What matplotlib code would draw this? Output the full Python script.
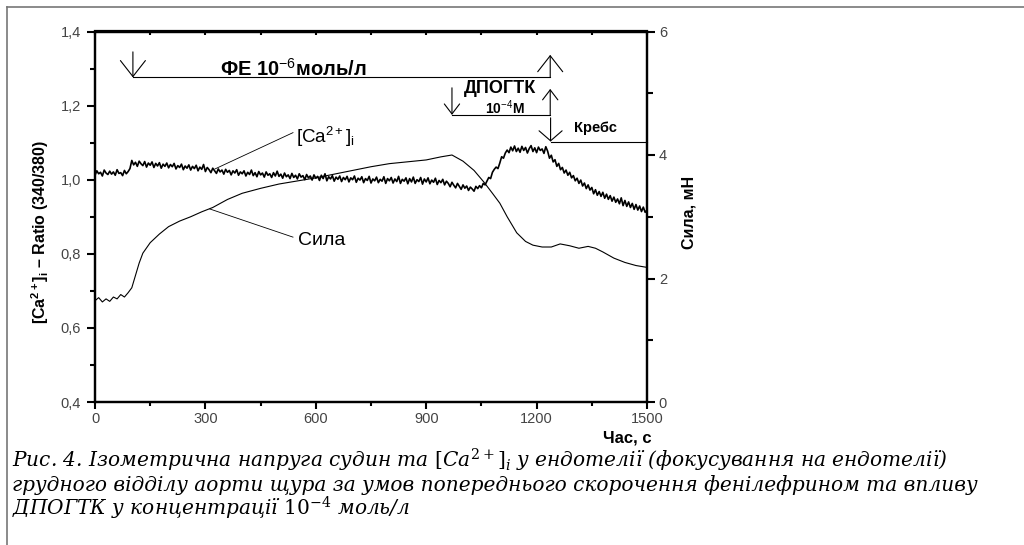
import numpy as np
import matplotlib
matplotlib.use("Agg")
import matplotlib.pyplot as plt
from matplotlib.ticker import FixedLocator, FixedFormatter
from matplotlib.lines import Line2D

plt.rcParams['font.family'] = ['Liberation Sans', 'DejaVu Sans']
plt.rcParams['mathtext.fontset'] = 'custom'
plt.rcParams['mathtext.rm'] = 'Liberation Sans'
plt.rcParams['mathtext.bf'] = 'Liberation Sans:bold'
plt.rcParams['mathtext.it'] = 'Liberation Sans:italic'

# ---------------- data ----------------
ca_time = np.arange(0, 1501, 5)
ca_ratio = [
    1.012, 1.024, 1.016, 1.020, 1.010, 1.026, 1.018, 1.014, 1.023, 1.015,
    1.021, 1.012, 1.027, 1.017, 1.019, 1.011, 1.025, 1.016, 1.022, 1.030,
    1.052, 1.040, 1.047, 1.036, 1.050, 1.043, 1.038, 1.049, 1.034, 1.045,
    1.039, 1.048, 1.033, 1.044, 1.037, 1.046, 1.031, 1.042, 1.036, 1.045,
    1.032, 1.041, 1.035, 1.044, 1.029, 1.038, 1.033, 1.042, 1.027, 1.037,
    1.031, 1.040, 1.026, 1.036, 1.030, 1.039, 1.024, 1.034, 1.028, 1.041,
    1.022, 1.033, 1.027, 1.019, 1.031, 1.024, 1.017, 1.029, 1.021, 1.026,
    1.015, 1.028, 1.020, 1.025, 1.013, 1.024, 1.018, 1.027, 1.012, 1.021,
    1.016, 1.024, 1.010, 1.020, 1.014, 1.026, 1.011, 1.019, 1.008, 1.022,
    1.013, 1.018, 1.007, 1.021, 1.012, 1.016, 1.006, 1.019, 1.010, 1.023,
    1.009, 1.015, 1.004, 1.018, 1.008, 1.013, 1.003, 1.017, 1.006, 1.012,
    1.002, 1.016, 1.007, 1.011, 1.000, 1.014, 1.005, 1.010, 0.999, 1.013,
    1.004, 1.009, 0.998, 1.012, 1.003, 1.016, 0.997, 1.008, 1.002, 1.011,
    0.996, 1.007, 1.001, 1.010, 0.995, 1.006, 1.000, 1.009, 0.994, 1.005,
    1.000, 1.010, 0.993, 1.004, 0.999, 1.008, 0.992, 1.003, 0.998, 1.009,
    0.991, 1.002, 0.997, 1.007, 0.992, 1.001, 0.996, 1.008, 0.990, 1.003,
    0.997, 1.006, 0.991, 1.002, 0.995, 1.009, 0.990, 1.001, 0.996, 1.005,
    0.989, 1.003, 0.994, 1.007, 0.990, 1.000, 0.995, 1.006, 0.988, 1.002,
    0.994, 1.005, 0.989, 0.999, 0.993, 1.004, 0.987, 0.998, 0.992, 1.001,
    0.986, 0.996, 0.990, 0.981, 0.993, 0.985, 0.978, 0.990, 0.982, 0.974,
    0.986, 0.977, 0.983, 0.971, 0.980, 0.975, 0.969, 0.982, 0.976, 0.984,
    0.978, 0.990, 0.986, 0.996, 1.006, 1.003, 1.020, 1.028, 1.034, 1.030,
    1.045, 1.062, 1.058, 1.072, 1.080, 1.073, 1.088, 1.078, 1.091, 1.076,
    1.085, 1.074, 1.090, 1.079, 1.087, 1.072, 1.084, 1.092, 1.076, 1.086,
    1.073, 1.088, 1.079, 1.083, 1.071, 1.089, 1.077, 1.058, 1.066, 1.048,
    1.054, 1.036, 1.044, 1.027, 1.033, 1.018, 1.026, 1.012, 1.020, 1.005,
    1.011, 0.997, 1.004, 0.990, 0.999, 0.983, 0.991, 0.976, 0.986, 0.972,
    0.979, 0.962, 0.973, 0.958, 0.968, 0.955, 0.966, 0.950, 0.961, 0.947,
    0.957, 0.942, 0.953, 0.939, 0.948, 0.935, 0.951, 0.930, 0.944, 0.928,
    0.940, 0.925, 0.936, 0.920, 0.933, 0.918, 0.929, 0.914, 0.926, 0.912,
    0.918,
]

force_time = [0, 10, 20, 30, 40, 50, 60, 70, 80, 90,
              100, 110, 120, 130, 150, 175, 200, 230, 260, 290,
              320, 360, 400, 450, 500, 550, 600, 650, 700, 750,
              800, 850, 900, 940, 970, 1000, 1030, 1057, 1080, 1100,
              1120, 1146, 1170, 1190, 1215, 1240, 1264, 1290, 1315, 1340,
              1360, 1380, 1410, 1440, 1470, 1500]
force_mN = [1.64, 1.69, 1.62, 1.67, 1.63, 1.70, 1.67, 1.74, 1.70, 1.77,
            1.85, 2.05, 2.25, 2.41, 2.58, 2.72, 2.84, 2.93, 3.00, 3.08,
            3.15, 3.28, 3.38, 3.46, 3.53, 3.58, 3.63, 3.69, 3.75, 3.81,
            3.86, 3.89, 3.92, 3.97, 4.00, 3.90, 3.75, 3.56, 3.38, 3.22,
            3.00, 2.74, 2.60, 2.54, 2.51, 2.51, 2.56, 2.53, 2.49, 2.52,
            2.49, 2.43, 2.33, 2.26, 2.21, 2.18]

x_ticks = [0, 300, 600, 900, 1200, 1500]
x_ticklabels = ['0', '300', '600', '900', '1200', '1500']
y_ticks = [0.4, 0.6, 0.8, 1.0, 1.2, 1.4]
y_ticklabels = ['0,4', '0,6', '0,8', '1,0', '1,2', '1,4']
y2_ticks = [0, 2, 4, 6]
y2_ticklabels = ['0', '2', '4', '6']

# treatment periods (s)
fe_period = (103, 1237)
dpogtk_period = (970, 1237)
krebs_start = 1238

caption_lines = [
    r"Рис. 4. Ізометрична напруга судин та $[Ca^{2+}]_i$ у ендотелії (фокусування на ендотелії)",
    r"грудного відділу аорти щура за умов попереднього скорочення фенілефрином та впливу",
    r"ДПОГТК у концентрації $10^{-4}$ моль/л",
]

# ---------------- figure ----------------
fig = plt.figure(figsize=(10.24, 5.45), dpi=100)
ax = fig.add_axes([95 / 1024, 1 - 402 / 545, 552 / 1024, 370.5 / 545])

ax.plot(ca_time, ca_ratio, color='black', lw=1.2, zorder=3)
ax.set_xlim(0, 1500)
ax.set_ylim(0.4, 1.4)

ax2 = ax.twinx()
ax2.plot(force_time, force_mN, color='black', lw=0.8, zorder=3)
ax2.set_ylim(0, 6)

tick_color = '#444444'
for a in (ax, ax2):
    for s in a.spines.values():
        s.set_linewidth(1.6)
        s.set_color('black')

ax.xaxis.set_major_locator(FixedLocator(x_ticks))
ax.xaxis.set_major_formatter(FixedFormatter(x_ticklabels))
ax.xaxis.set_minor_locator(FixedLocator([150, 450, 750, 1050, 1350]))
ax.yaxis.set_major_locator(FixedLocator(y_ticks))
ax.yaxis.set_major_formatter(FixedFormatter(y_ticklabels))
ax.yaxis.set_minor_locator(FixedLocator([0.5, 0.7, 0.9, 1.1, 1.3]))
ax2.yaxis.set_major_locator(FixedLocator(y2_ticks))
ax2.yaxis.set_major_formatter(FixedFormatter(y2_ticklabels))
ax2.yaxis.set_minor_locator(FixedLocator([1, 3, 5]))

ax.tick_params(axis='x', which='major', direction='out', length=5, width=1.5,
               labelsize=10.5, labelcolor=tick_color, pad=2.5)
ax.tick_params(axis='x', which='minor', direction='out', length=3, width=1.5)
ax.tick_params(axis='y', which='major', direction='out', length=5.5, width=1.5,
               labelsize=10.5, labelcolor=tick_color, pad=4.5)
ax.tick_params(axis='y', which='minor', direction='out', length=3.5, width=1.5)
ax2.tick_params(axis='y', which='major', direction='out', length=5.5, width=1.5,
                labelsize=10.5, labelcolor=tick_color, pad=3)
ax2.tick_params(axis='y', which='minor', direction='out', length=4.5, width=1.5)

sec = ax.secondary_xaxis('top')
sec.xaxis.set_major_locator(FixedLocator(x_ticks))
sec.xaxis.set_minor_locator(FixedLocator([150, 450, 750, 1050, 1350]))
sec.tick_params(which='both', direction='in', length=3.2, width=1.5, labeltop=False)
sec.spines['top'].set_linewidth(1.6)

# axis labels
fig.text(40 / 1024, 1 - 232 / 545, r"[Ca$^{\mathbf{2+}}$]$_{\mathbf{i}}$ – Ratio (340/380)",
         rotation=90, ha='center', va='center', fontsize=11.5, fontweight='bold')
fig.text(689 / 1024, 1 - 212 / 545, "Сила, мН", rotation=90, ha='center', va='center',
         fontsize=11.5, fontweight='bold')
fig.text(652 / 1024, 1 - 438 / 545, "Час, с", ha='right', va='center',
         fontsize=12, fontweight='bold')

# ---------------- treatment brackets ----------------
def arrow(x, y_from, y_to, hw, hl):
    ax.annotate('', xy=(x, y_to), xytext=(x, y_from), xycoords='data',
                arrowprops=dict(arrowstyle=f'->,head_width={hw},head_length={hl}',
                                lw=0.8, color='black', shrinkA=0, shrinkB=0),
                annotation_clip=False)

# ФЕ
arrow(fe_period[0], 1.345, 1.276, 0.9, 1.15)
ax.plot(fe_period, [1.276, 1.276], color='black', lw=0.8)
arrow(fe_period[1], 1.276, 1.337, 0.9, 1.15)
ax.text(540, 1.298, r"ФЕ 10$^{-6}$моль/л", ha='center', va='center',
        fontsize=14.5, fontweight='bold')

# ДПОГТК
arrow(dpogtk_period[0], 1.248, 1.175, 0.55, 0.72)
ax.plot(dpogtk_period, [1.175, 1.175], color='black', lw=0.8)
arrow(dpogtk_period[1], 1.175, 1.245, 0.55, 0.72)
ax.text(1101, 1.245, "ДПОГТК", ha='center', va='center', fontsize=13, fontweight='bold')
ax.text(1114, 1.194, r"10$^{-4}$М", ha='center', va='center', fontsize=10, fontweight='bold')

# Кребс
arrow(krebs_start, 1.167, 1.103, 0.83, 0.72)
ax.plot([krebs_start, 1500], [1.103, 1.103], color='black', lw=0.8, clip_on=False)
ax.text(1361, 1.14, "Кребс", ha='center', va='center', fontsize=10.5, fontweight='bold')

# trace labels
ax.plot([326, 538], [1.029, 1.127], color='black', lw=0.6)
ax.text(546, 1.115, r"[Ca$^{2+}$]$_{\mathrm{i}}$", ha='left', va='center', fontsize=13.5)
ax.plot([312, 538], [0.921, 0.845], color='black', lw=0.6)
ax.text(552, 0.835, "Сила", ha='left', va='center', fontsize=14)

# ---------------- frame and caption ----------------
fig.add_artist(Line2D([7 / 1024, 1], [1 - 7 / 545, 1 - 7 / 545], color='#777777', lw=1.2))
fig.add_artist(Line2D([7 / 1024, 7 / 1024], [0, 1 - 7 / 545], color='#777777', lw=1.2))

for i, line in enumerate(caption_lines):
    fig.text(12 / 1024, 1 - (467 + 24 * i) / 545, line, ha='left', va='baseline',
             fontsize=14.5, fontstyle='italic', family='DejaVu Serif',
             math_fontfamily='dejavuserif')

fig.savefig('out.png', dpi=100)
